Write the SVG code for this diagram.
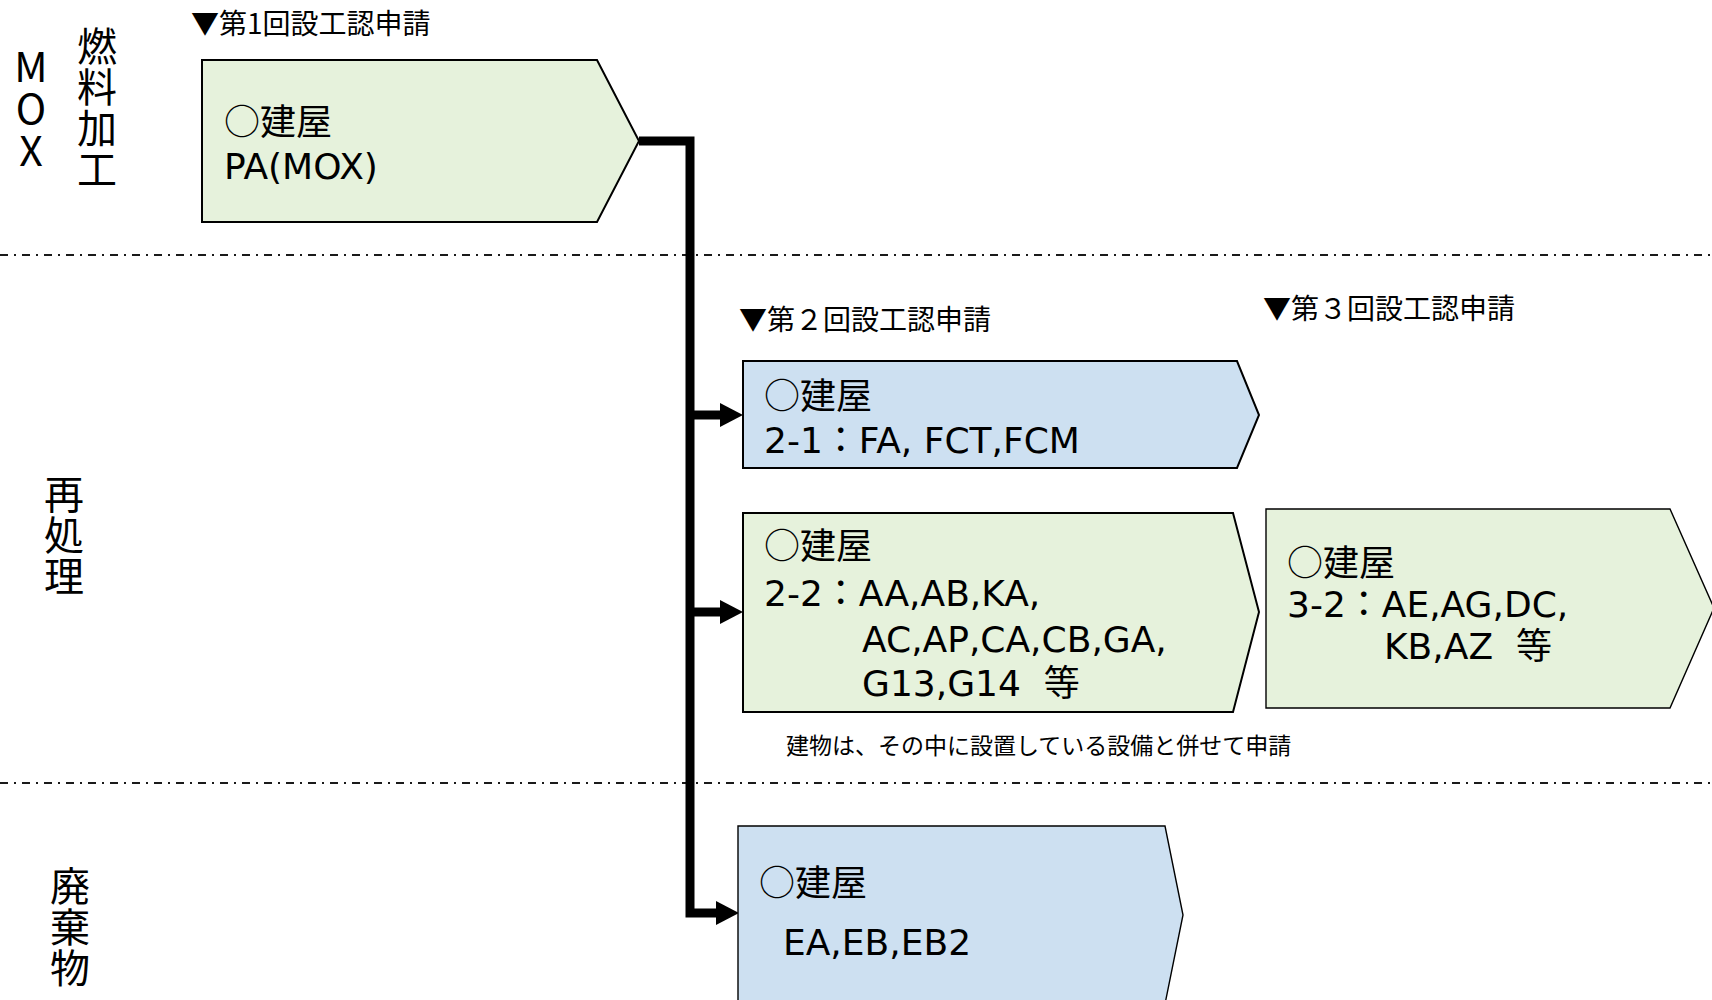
<svg xmlns="http://www.w3.org/2000/svg" width="1712" height="1000" viewBox="0 0 1712 1000">
<style>
.bg{fill:#ffffff}
.sep{stroke:#1a1a1a;stroke-width:2;stroke-dasharray:8 6 2 6;fill:none}
.green{fill:#e6f2dc;stroke:#000;stroke-width:2}
.blue{fill:#cde0f1;stroke:#000;stroke-width:2}
.thin{stroke-width:1.4}
.t{font-family:"DejaVu Sans","Noto Sans CJK JP",sans-serif;font-size:36px;fill:#000}
.j{font-family:"Noto Sans CJK JP",sans-serif;font-size:36px;fill:#000}
.hd{font-family:"Noto Sans CJK JP",sans-serif;font-size:28px;fill:#000}
.note{font-family:"Noto Sans CJK JP",sans-serif;font-size:23px;fill:#000}
.vlab{font-family:"Noto Sans CJK JP",sans-serif;font-size:40px;fill:#000;writing-mode:vertical-rl;text-orientation:upright;letter-spacing:1px}
.vlat{font-family:"Noto Sans CJK JP",sans-serif;font-size:41px;fill:#000;writing-mode:vertical-rl;text-orientation:upright;letter-spacing:1px}
.conn{stroke:#000;stroke-width:9;fill:none}
</style>
<defs>
<marker id="arr" markerUnits="userSpaceOnUse" viewBox="0 0 23 24" refX="0" refY="12" markerWidth="23" markerHeight="24" orient="auto">
<path d="M0,0 L23,12 L0,24 Z" fill="#000"/>
</marker>
</defs>
<rect class="bg" x="0" y="0" width="1712" height="1000"/>

<g id="separators">
<line class="sep" x1="0" y1="255" x2="1712" y2="255"/>
<line class="sep" x1="0" y1="783" x2="1712" y2="783"/>
</g>

<g id="row-labels">
<text class="vlat" x="31" y="46">MOX</text>
<text class="vlab" x="97" y="26">燃料加工</text>
<text class="vlab" x="64" y="474">再処理</text>
<text class="vlab" x="70" y="866">廃棄物</text>
</g>

<g id="headers">
<text class="hd" x="191" y="34">▼第1回設工認申請</text>
<text class="hd" x="739" y="330">▼第２回設工認申請</text>
<text class="hd" x="1263" y="319">▼第３回設工認申請</text>
</g>

<g id="connectors">
<path class="conn" d="M639,141 H690 V913 H716" marker-end="url(#arr)"/>
<path class="conn" d="M690,415 H720" marker-end="url(#arr)"/>
<path class="conn" d="M690,612 H720" marker-end="url(#arr)"/>
</g>

<g id="node-mox">
<polygon class="green" points="202,60 597,60 639,141 597,222 202,222"/>
<text class="j" x="224" y="135">○建屋</text>
<text class="t" x="224" y="179">PA(MOX)</text>
</g>

<g id="node-2-1">
<polygon class="blue" points="743,361 1237,361 1259,415 1237,468 743,468"/>
<text class="j" x="764" y="409">○建屋</text>
<text class="t" x="764" y="453">2-1：FA, FCT,FCM</text>
</g>

<g id="node-2-2">
<polygon class="green" points="743,513 1233,513 1259,612 1233,712 743,712"/>
<text class="j" x="764" y="559">○建屋</text>
<text class="t" x="764" y="606">2-2：AA,AB,KA,</text>
<text class="t" x="862" y="652">AC,AP,CA,CB,GA,</text>
<text class="t" x="862" y="696" xml:space="preserve">G13,G14  等</text>
</g>

<g id="node-3-2">
<polygon class="green thin" points="1266,509 1670,509 1714,608 1670,708 1266,708"/>
<text class="j" x="1287" y="576">○建屋</text>
<text class="t" x="1287" y="617">3-2：AE,AG,DC,</text>
<text class="t" x="1384" y="659" xml:space="preserve">KB,AZ  等</text>
</g>

<g id="node-note">
<text class="note" x="786" y="754">建物は、その中に設置している設備と併せて申請</text>
</g>

<g id="node-waste">
<polygon class="blue thin" points="738,826 1165,826 1183,915 1165,1004 738,1004"/>
<text class="j" x="759" y="896">○建屋</text>
<text class="t" x="783" y="955">EA,EB,EB2</text>
</g>
</svg>
